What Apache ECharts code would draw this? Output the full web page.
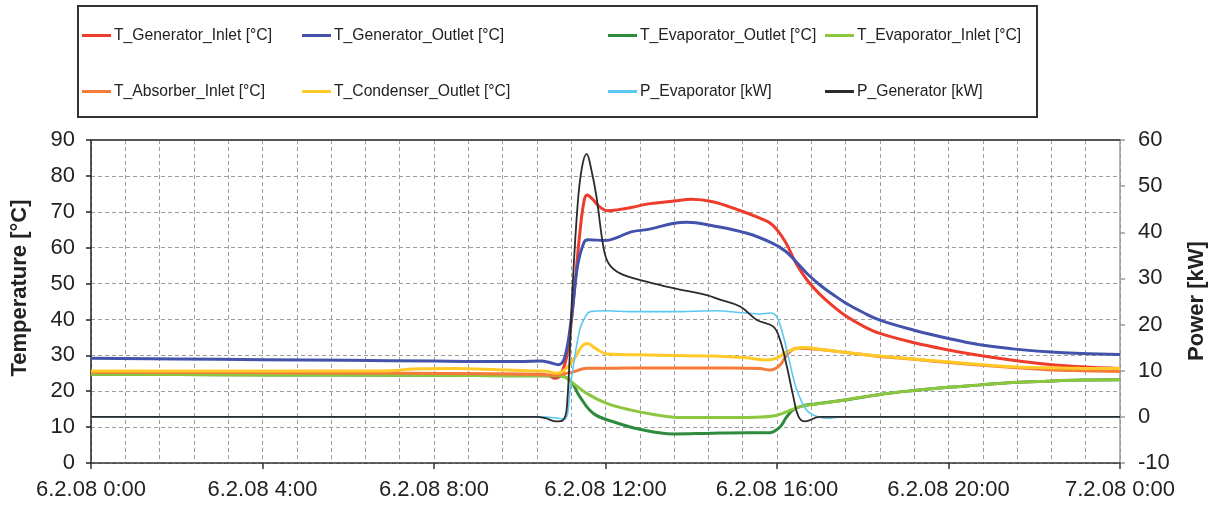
<!DOCTYPE html>
<html>
<head>
<meta charset="utf-8">
<script src="https://cdn.jsdelivr.net/npm/echarts@6/dist/echarts.min.js"></script>
<style>
html,body{margin:0;padding:0;background:#fff;}
#chart{width:1218px;height:511px;}
</style>
</head>
<body>
<div id="chart"></div>
<script>
// ---------- data (time in hours of 6.2.08) ----------
const X_TICK_LABELS = ['6.2.08 0:00','6.2.08 4:00','6.2.08 8:00','6.2.08 12:00','6.2.08 16:00','6.2.08 20:00','7.2.08 0:00'];
const SERIES_NAMES = ['T_Generator_Inlet [°C]','T_Generator_Outlet [°C]','T_Evaporator_Outlet [°C]','T_Evaporator_Inlet [°C]',
                      'T_Absorber_Inlet [°C]','T_Condenser_Outlet [°C]','P_Evaporator [kW]','P_Generator [kW]'];

const GEN_IN_T = [0,3,6,9,10,10.5,10.7,10.82,10.95,11.1,11.25,11.4,11.5,11.57,11.7,11.85,12.05,12.3,12.6,13.0,13.6,14.0,14.5,15.1,15.6,15.9,16.2,16.45,16.7,17.0,17.3,17.6,18.0,18.4,19.2,20.0,20.7,21.5,22.3,23.1,24];
const GEN_IN_V = [25.2,25.0,24.9,24.8,24.7,24.7,24.2,23.6,24.5,30,45,64,73,74.7,73.5,71.5,70.3,70.6,71.2,72.2,73.0,73.5,72.8,70.5,68.2,66.3,61.5,55.5,51.0,47.0,43.8,41.0,38.2,36.1,33.5,31.5,30.0,28.6,27.5,26.8,26.3];

const GEN_OUT_T = [0,2,4,6,8,9,10,10.5,10.7,10.9,11.05,11.2,11.35,11.5,11.6,12.0,12.2,12.6,13.0,13.6,13.9,14.5,15.3,15.9,16.2,16.45,16.7,17.0,17.3,17.6,18.0,18.4,19.2,20.0,20.7,21.5,22.3,23.1,24];
const GEN_OUT_V = [29.2,29.0,28.8,28.6,28.4,28.3,28.3,28.4,28.0,27.4,29.5,40,55,61.5,62.2,62.0,62.5,64.4,65.1,66.8,67.1,66.1,64.0,61.2,59.0,56.0,52.8,49.6,47.0,44.6,42.0,39.8,37.0,34.7,33.0,31.8,31.0,30.5,30.2];

const EVAP_OUT_T = [0,3,6,9,10.5,10.9,11.17,11.4,11.72,12.18,12.8,13.58,14.5,15.3,15.76,15.91,16.07,16.23,16.38,16.61,16.85,17.5,18.4,19.2,20.0,20.7,21.5,22.3,23.1,24];
const EVAP_OUT_V = [24.7,24.6,24.5,24.4,24.3,24.3,23.1,18.5,13.8,11.5,9.4,8.1,8.3,8.4,8.4,8.7,10.0,12.9,14.8,16.0,16.4,17.4,19.1,20.2,21.1,21.7,22.4,22.8,23.1,23.2];

const EVAP_IN_T = [0,3,6,9,10.5,10.9,11.05,11.25,11.56,12.03,12.57,13.19,13.74,14.5,15.3,15.91,16.23,16.54,16.85,17.5,18.4,19.2,20.0,20.7,21.5,22.3,23.1,24];
const EVAP_IN_V = [24.7,24.6,24.5,24.4,24.3,24.3,24.0,22.2,19.4,16.6,14.8,13.4,12.7,12.7,12.7,13.1,14.3,15.7,16.3,17.4,19.1,20.2,21.1,21.7,22.4,22.8,23.1,23.2];

const ABS_IN_T = [0,3,6,9,10.5,10.82,11.0,11.25,11.56,12.0,13.0,14.0,15.0,15.6,15.84,16.07,16.23,16.46,16.7,17.0,17.47,18.4,19.2,20.0,20.7,21.5,22.3,23.1,24];
const ABS_IN_V = [25.3,25.2,25.1,24.9,24.6,24.5,24.8,25.4,26.4,26.4,26.5,26.5,26.5,26.3,25.9,27.3,30.1,32.0,31.9,31.6,31.0,29.7,28.9,28.0,27.3,26.6,26.0,25.7,25.5];

const COND_OUT_T = [0,3,6,7,7.5,8.5,9.5,10.2,10.6,10.85,11.0,11.25,11.45,11.58,11.76,12.03,13.0,14.5,15.3,15.76,15.99,16.23,16.54,16.65,17.0,17.47,18.4,19.96,21.51,23.07,24];
const COND_OUT_V = [25.6,25.6,25.6,25.7,26.2,26.3,26.0,25.7,25.6,25.0,25.5,28.7,32.5,33.3,32.0,30.4,30.1,29.8,29.3,28.7,29.2,31.0,32.1,32.2,31.7,31.0,29.8,28.2,26.8,26.4,26.3];

const P_EVAP_T = [0,10.5,10.9,11.05,11.2,11.4,11.55,11.64,12.03,12.57,13.7,14.5,15.29,15.6,15.84,15.99,16.15,16.30,16.46,16.69,16.93,17.24,17.5,24];
const P_EVAP_V = [0,0,-0.3,-0.5,8,18.9,22.0,22.8,23.0,22.8,22.8,23.0,22.5,22.3,22.5,21.7,17.4,11.6,5.9,1.5,0.1,-0.3,0,0];

const P_GEN_T = [0,10.4,10.6,10.86,11.0,11.1,11.22,11.35,11.45,11.56,11.66,11.79,11.95,12.07,12.34,12.96,13.58,14.36,14.67,15.14,15.53,15.91,16.07,16.23,16.38,16.5,16.65,17.0,24];
const P_GEN_V = [0,0,-0.3,-1.0,-0.8,2.2,26,46,54,57,54,47.7,36.9,33.3,31.1,29.3,27.9,26.4,25.4,23.9,21.0,19.6,16.7,10.9,4.4,0.1,-1.0,0,0];

// ---------- styling ----------
const FONT = '"Liberation Sans", Arial, sans-serif';
const COLORS = ['#ee3b2b','#4352ab','#2e8a3c','#8dc63f','#f47b3a','#ffc926','#5cc8f2','#2b2b2b'];
const WIDTHS = [3,3,3,3,3,3,1.6,1.8];
const TIMES = [GEN_IN_T,GEN_OUT_T,EVAP_OUT_T,EVAP_IN_T,ABS_IN_T,COND_OUT_T,P_EVAP_T,P_GEN_T];
const VALUES = [GEN_IN_V,GEN_OUT_V,EVAP_OUT_V,EVAP_IN_V,ABS_IN_V,COND_OUT_V,P_EVAP_V,P_GEN_V];
const AXIS_IDX = [0,0,0,0,0,0,1,1];

const series = SERIES_NAMES.map((name,i)=>({
  name, type:'line', xAxisIndex:0, yAxisIndex:AXIS_IDX[i],
  data: TIMES[i].map((t,k)=>[t, VALUES[i][k]]),
  symbol:'none', showSymbol:false, smooth:0.4,
  lineStyle:{color:COLORS[i], width:WIDTHS[i]},
  itemStyle:{color:COLORS[i]},
  emphasis:{disabled:true}
}));

const COL_X = [82,302,608,825];
const ROW_Y = [35,91];
const legends = SERIES_NAMES.map((name,i)=>({
  data:[{name, icon:'rect'}], orient:'horizontal',
  left: COL_X[i%4], top: ROW_Y[Math.floor(i/4)] - 7.5,
  padding:0, itemWidth:29, itemHeight:3, itemGap:0,
  selectedMode:false,
  textStyle:{fontSize:15.7, color:'#222', fontFamily:FONT, padding:[0,0,0,-2]}
}));

const chart = echarts.init(document.getElementById('chart'), null, {renderer:'canvas'});
chart.setOption({
  animation:false,
  backgroundColor:'#fff',
  textStyle:{fontFamily:FONT},
  grid:{left:91, right:98, top:140, bottom:48, containLabel:false},
  legend: legends,
  xAxis:[
    {type:'value', min:0, max:24, interval:0.8, position:'bottom',
     axisLine:{show:false}, axisTick:{show:false}, axisLabel:{show:false},
     splitLine:{show:true, lineStyle:{color:'#9c9c9c', width:1, type:[4,3]}}},
    {type:'value', min:0, max:24, interval:4, position:'bottom',
     axisLine:{show:true, onZero:false, lineStyle:{color:'#333', width:1.5}},
     axisTick:{show:true, length:6, lineStyle:{color:'#333', width:1.5}},
     axisLabel:{show:true, margin:16, fontSize:22, color:'#222', fontFamily:FONT,
       formatter:(v)=>X_TICK_LABELS[Math.round(v/4)]},
     splitLine:{show:false}},
    {type:'value', min:0, max:24, interval:4, position:'top',
     axisLine:{show:true, onZero:false, lineStyle:{color:'#555', width:2}},
     axisTick:{show:false}, axisLabel:{show:false}, splitLine:{show:false}}
  ],
  yAxis:[
    {type:'value', min:0, max:90, interval:10, position:'left',
     axisLine:{show:true, onZero:false, lineStyle:{color:'#222', width:1.5}},
     axisTick:{show:true, length:5, lineStyle:{color:'#222', width:1.5}},
     axisLabel:{margin:16, fontSize:22, color:'#222', fontFamily:FONT},
     splitLine:{show:true, lineStyle:{color:'#9c9c9c', width:1, type:[4,3]}}},
    {type:'value', min:-10, max:60, interval:10, position:'right',
     axisLine:{show:true, onZero:false, lineStyle:{color:'#9a9a9a', width:1.5}},
     axisTick:{show:true, length:5, lineStyle:{color:'#9a9a9a', width:1.5}},
     axisLabel:{margin:18, fontSize:22, color:'#222', fontFamily:FONT},
     splitLine:{show:false}}
  ],
  graphic:[
    {type:'rect', shape:{x:78, y:6, width:959, height:111}, style:{fill:'none', stroke:'#333', lineWidth:2}, silent:true},
    {type:'text', x:20, y:288, rotation:Math.PI/2,
     style:{text:'Temperature [°C]', font:'bold 22px "Liberation Sans", Arial, sans-serif', fill:'#222', textAlign:'center', textVerticalAlign:'middle'}},
    {type:'text', x:1197, y:301, rotation:Math.PI/2,
     style:{text:'Power [kW]', font:'bold 22px "Liberation Sans", Arial, sans-serif', fill:'#222', textAlign:'center', textVerticalAlign:'middle'}}
  ],
  series
});
</script>
</body>
</html>
